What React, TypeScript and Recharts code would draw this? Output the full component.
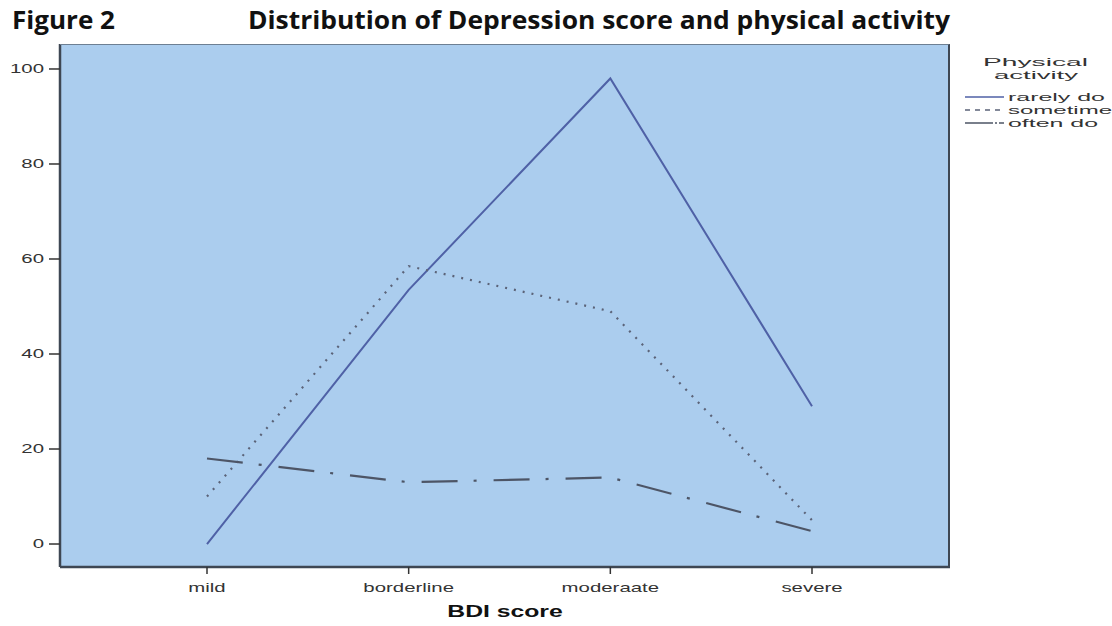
import { LineChart, Line, XAxis, YAxis, CartesianGrid } from "recharts"

const categories = ["mild", "borderline", "moderaate", "severe"]
const rarelyDo = [0, 53.5, 98, 29]
const sometime = [10, 58.5, 49, 5]
const oftenDo = [18, 13, 14, 2.7]
const yTicks = [0, 20, 40, 60, 80, 100]

const data = categories.map((c, i) => ({
  cat: c,
  rarely: rarelyDo[i],
  sometime: sometime[i],
  often: oftenDo[i],
}))

const W = 1112
const H = 626
const PLOT = { left: 60, top: 44, right: 950, bottom: 567 }
const AXIS_FONT = "'Liberation Sans', Arial, sans-serif"
const STRETCH = 1.7

const series = [
  { key: "rarely", label: "rarely do", color: "#4f61a6", dash: undefined, legendDash: undefined },
  { key: "sometime", label: "sometime", color: "#5b6378", dash: "2 7", legendDash: "5 5" },
  { key: "often", label: "often do", color: "#4d5566", dash: "36 16 3 17", legendDash: "28 2 2 2" },
]

// wide, stretched labels like the SPSS export
function XTick({ x, y, payload }: any) {
  return (
    <text
      transform={`translate(${x},${y + 16}) scale(${STRETCH},1)`}
      textAnchor="middle"
      fill="#333"
      fontSize={12}
      fontFamily={AXIS_FONT}
    >
      {payload.value}
    </text>
  )
}

function YTick({ x, y, payload }: any) {
  return (
    <text
      transform={`translate(${x - 3},${y + 4}) scale(${STRETCH},1)`}
      textAnchor="end"
      fill="#333"
      fontSize={12}
      fontFamily={AXIS_FONT}
    >
      {payload.value}
    </text>
  )
}

function LegendBox() {
  return (
    <svg width={W} height={H} style={{ position: "absolute", left: 0, top: 0, pointerEvents: "none" }}>
      <g fontFamily={AXIS_FONT} fill="#333" fontSize={11.5}>
        <text x={983} y={66} textLength={105} lengthAdjust="spacingAndGlyphs">Physical</text>
        <text x={994} y={79} textLength={84} lengthAdjust="spacingAndGlyphs">activity</text>
        {series.map((s, i) => (
          <g key={s.key}>
            <line
              x1={965}
              x2={1004}
              y1={97 + i * 13}
              y2={97 + i * 13}
              stroke={s.color}
              strokeWidth={1.5}
              strokeDasharray={s.legendDash}
            />
            <text
              x={1008}
              y={101 + i * 13}
              textLength={s.key === "sometime" ? 104 : s.key === "rarely" ? 97 : 90}
              lengthAdjust="spacingAndGlyphs"
            >
              {s.label}
            </text>
          </g>
        ))}
      </g>
    </svg>
  )
}

export default function App() {
  return (
    <div style={{ position: "absolute", left: 0, top: 0, width: W, height: H, background: "#fff", overflow: "hidden" }}>
      <svg width={W} height={40} style={{ position: "absolute", left: 0, top: 0 }}>
        <g fontFamily="'Open Sans', 'Noto Sans', sans-serif" fontWeight={700} fontSize={25} fill="#111">
          <text x={12} y={29} textLength={103} lengthAdjust="spacingAndGlyphs">Figure 2</text>
          <text x={248} y={29} textLength={702} lengthAdjust="spacingAndGlyphs">
            Distribution of Depression score and physical activity
          </text>
        </g>
      </svg>
      <div style={{ position: "absolute", left: 0, top: 0 }}>
        <LineChart
          width={W}
          height={H}
          data={data}
          margin={{ top: PLOT.top, left: 0, right: W - PLOT.right, bottom: 0 }}
        >
          <CartesianGrid fill="#abcdee" horizontal={false} vertical={false} />
          <XAxis
            dataKey="cat"
            height={H - PLOT.bottom}
            padding={{ left: 147, right: 138 }}
            axisLine={{ stroke: "#3e4753", strokeWidth: 2.5 }}
            tickLine={{ stroke: "#333", strokeWidth: 1.5 }}
            tickSize={7}
            tick={<XTick />}
            label={({ viewBox }: any) => (
              <text
                transform={`translate(${viewBox.x + viewBox.width / 2},${viewBox.y + 50}) scale(1.5,1)`}
                textAnchor="middle"
                fill="#111"
                fontSize={16.5}
                fontWeight={700}
                fontFamily={AXIS_FONT}
              >
                BDI score
              </text>
            )}
          />
          <YAxis
            width={PLOT.left}
            domain={[-4.84, 105.26]}
            allowDataOverflow
            ticks={yTicks}
            axisLine={{ stroke: "#3e4753", strokeWidth: 2.5 }}
            tickLine={{ stroke: "#333", strokeWidth: 1.5 }}
            tickSize={11}
            tick={<YTick />}
          />
          {series.map((s) => (
            <Line
              key={s.key}
              type="linear"
              dataKey={s.key}
              name={s.label}
              stroke={s.color}
              strokeWidth={s.key === "rarely" ? 2 : 2.2}
              strokeDasharray={s.dash}
              dot={false}
              activeDot={false}
              isAnimationActive={false}
            />
          ))}
        </LineChart>
      </div>
      <div
        style={{
          position: "absolute",
          left: PLOT.left,
          top: PLOT.top,
          width: PLOT.right - PLOT.left,
          height: PLOT.bottom - PLOT.top,
          borderTop: "1px solid #6d7f92",
          borderRight: "2px solid #3e4753",
          boxSizing: "border-box",
          pointerEvents: "none",
        }}
      />
      <LegendBox />
    </div>
  )
}
